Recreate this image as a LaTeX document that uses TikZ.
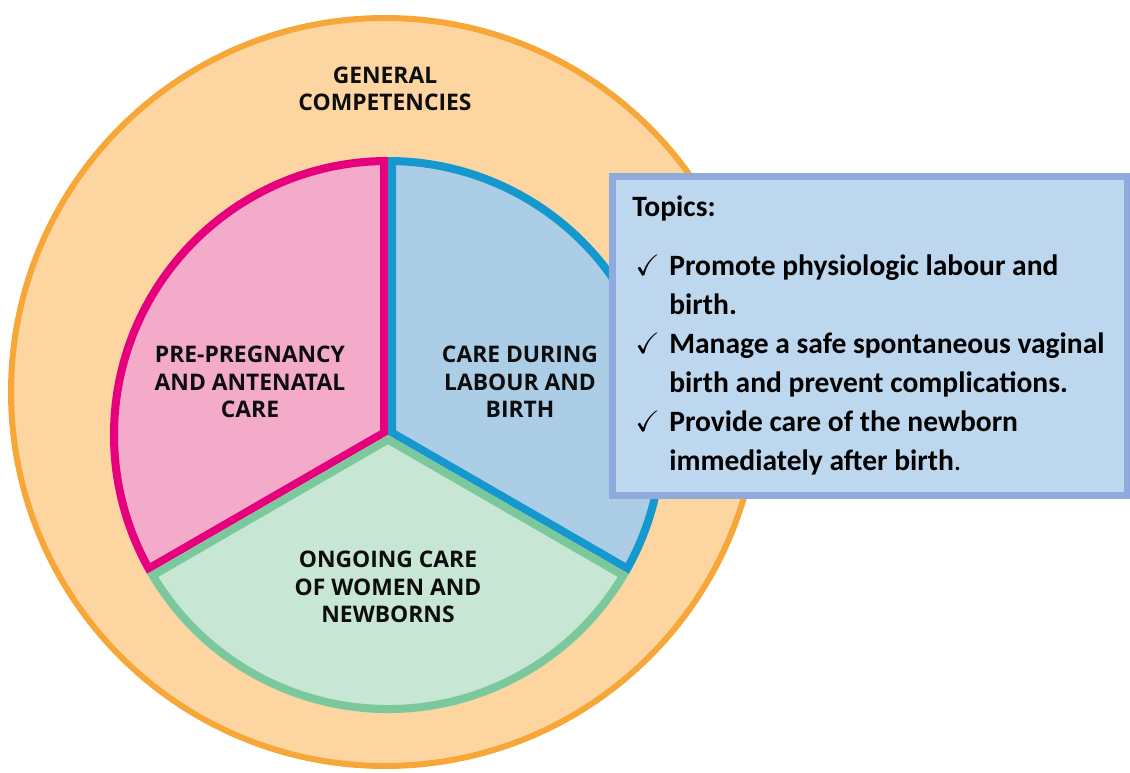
\documentclass[tikz,border=0pt]{standalone}
\usepackage{fontspec}
\usepackage{amssymb}
\setmainfont{Carlito}
\newfontfamily\wheelfont{Open Sans}

\definecolor{ringline}{RGB}{247,166,56}
\definecolor{ringfill}{RGB}{252,213,160}
\definecolor{pinkline}{RGB}{230,0,126}
\definecolor{pinkfill}{RGB}{244,171,202}
\definecolor{blueline}{RGB}{20,152,205}
\definecolor{bluefill}{RGB}{171,205,230}
\definecolor{greenline}{RGB}{122,200,155}
\definecolor{greenfill}{RGB}{200,230,212}
\definecolor{boxline}{RGB}{143,170,220}
\definecolor{boxfill}{RGB}{189,215,238}

% one slice of the wheel, border kept inside the slice
\newcommand{\drawslice}[4]{%
  \begin{scope}
    \clip (hub) -- ++(#1:278) arc[start angle=#1, end angle=#2, radius=278] -- cycle;
    \filldraw [draw=#3, fill=#4, line width=0.32cm] (hub) -- ++(#1:278) arc[start angle=#1, end angle=#2, radius=278] -- cycle;
  \end{scope}}

\begin{document}
\begin{tikzpicture}[x=0.02cm, y=0.02cm,
    wheeltext/.style={font=\wheelfont\bfseries\fontsize{13}{15.6}\selectfont, align=center, text=black!95},
    topicbox/.style={draw=boxline, fill=boxfill, line width=0.14cm}]
  \useasboundingbox (0,0) rectangle (1130,772);
  \filldraw [draw=ringline, fill=ringfill, line width=0.12cm] (385,380) circle [radius=374];
  \coordinate (hub) at (388,337);
  \drawslice{90}{210}{pinkline}{pinkfill}
  \drawslice{-30}{90}{blueline}{bluefill}
  \drawslice{210}{330}{greenline}{greenfill}
  \node [wheeltext] (general) at (385,683) {GENERAL\\COMPETENCIES};
  \node [wheeltext] (prenatal) at (250,390) {PRE-PREGNANCY\\AND ANTENATAL\\CARE};
  \node [wheeltext] (labour) at (520,390) {CARE DURING\\LABOUR AND\\BIRTH};
  \node [wheeltext] (ongoing) at (388,185) {ONGOING CARE\\OF WOMEN AND\\NEWBORNS};
  \node [topicbox, minimum width=10.3cm, minimum height=6.38cm, anchor=north west] (topics) at (609,599) {};
  \node [anchor=base west, inner sep=0, font=\bfseries\fontsize{16.8}{22.2}\selectfont] (topiclist) at ([shift={(23,-44)}]topics.north west) {%
    \renewcommand{\arraystretch}{1}%
    \begin{tabular}[t]{@{}p{0.74cm}@{}l@{}}
      \multicolumn{2}{@{}l@{}}{Topics:}\\[11pt]
      \hspace{0.06cm}$\checkmark$ & Promote physiologic labour and\\
      & birth.\\
      \hspace{0.06cm}$\checkmark$ & Manage a safe spontaneous vaginal\\
      & birth and prevent complications.\\
      \hspace{0.06cm}$\checkmark$ & Provide care of the newborn\\
      & immediately after birth{\mdseries .}
    \end{tabular}};
\end{tikzpicture}
\end{document}
